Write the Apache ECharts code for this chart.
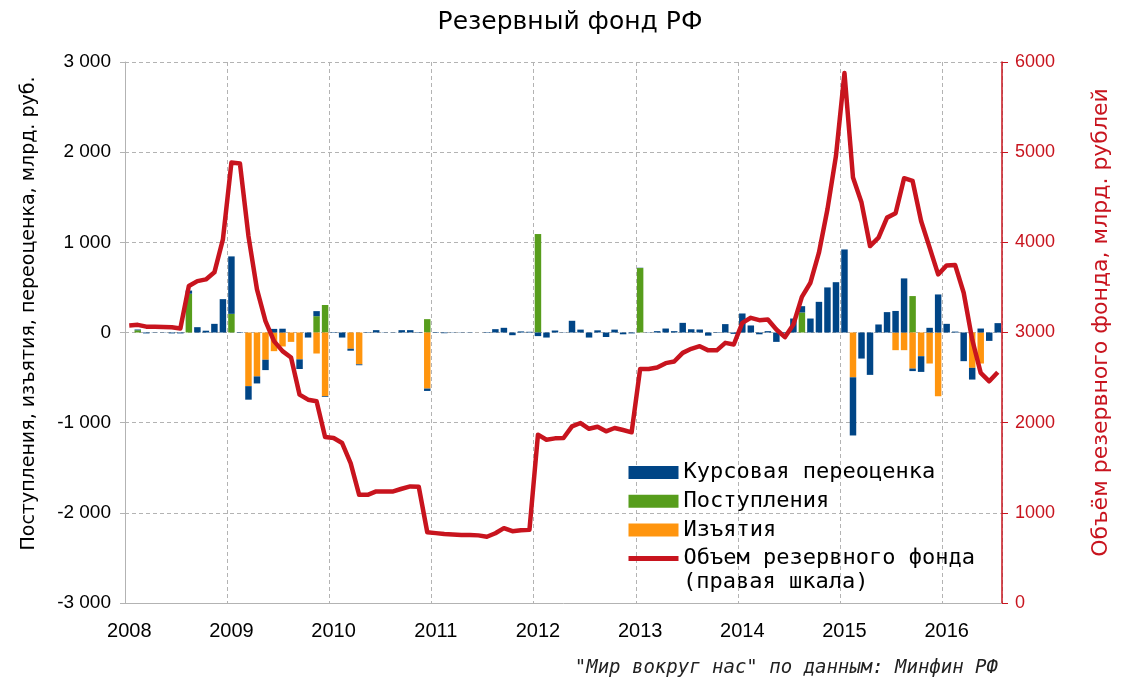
<!DOCTYPE html>
<html>
<head>
<meta charset="utf-8">
<script src="https://cdn.jsdelivr.net/npm/echarts@6/dist/echarts.min.js"></script>
<style>
html,body{margin:0;padding:0;background:#fff;}
#chart{width:1123px;height:688px;}
</style>
</head>
<body>
<div id="chart"></div>
<script>
// Years shown on the x axis
const years = [2008, 2009, 2010, 2011, 2012, 2013, 2014, 2015, 2016];
// Monthly categories Jan 2008 .. Jul 2016
const months = [];
years.forEach(y => { for (let m = 1; m <= 12; m++) { if (y === 2016 && m > 7) break; months.push(y + '-' + (m < 10 ? '0' + m : m)); } });

// Курсовая переоценка, млрд руб.
const revaluation = [
  0, 8, -10, -3, -3, -10, -10, 35, 59, 20, 96, 370,
  637, -5, -150, -78, -115, 40, 42, 0, -107, -56, 56, -8,
  -5, -56, -22, -10, 5, 26, 3, 3, 26, 26, 5, -26,
  -5, -8, -3, -3, -3, 0, 5, 37, 52, -30, 12, 8,
  -40, -56, 22, 3, 130, 32, -56, 24, -50, 32, -20, -10,
  3, 3, 15, 44, 15, 107, 36, 33, -35, 5, 93, -15,
  211, 78, -20, 15, -104, -8, 155, 70, 155, 340, 500, 558,
  921, -645, -289, -470, 89, 226, 239, 600, -28, -174, 52, 422,
  96, 10, -318, -130, 44, -93, 104
];
// Поступления, млрд руб.
const inflows = [
  0, 25, 0, 0, 0, 0, 0, 430, 0, 0, 0, 0,
  207, 0, 0, 0, 0, 0, 0, 0, 0, 0, 181, 305,
  0, 0, 0, 0, 0, 0, 0, 0, 0, 0, 0, 148,
  0, 0, 0, 0, 0, 0, 0, 0, 0, 0, 0, 0,
  1092, 0, 0, 0, 0, 0, 0, 0, 0, 0, 0, 0,
  715, 0, 0, 0, 0, 0, 0, 0, 0, 0, 0, 0,
  0, 0, 0, 0, 0, 0, 0, 222, 0, 0, 0, 0,
  0, 0, 0, 0, 0, 0, 0, 0, 404, 0, 0, 0,
  0, 0, 0, 0, 0, 0, 0
];
// Изъятия, млрд руб.
const withdrawals = [
  0, 0, 0, 0, 0, 0, 0, 0, 0, 0, 0, 0,
  0, 0, -595, -487, -302, -207, -155, -104, -298, 0, -233, -707,
  0, 0, -180, -353, 0, 0, 0, 0, 0, 0, 0, -622,
  0, 0, 0, 0, 0, 0, 0, 0, 0, 0, 0, 0,
  0, 0, 0, 0, 0, 0, 0, 0, 0, 0, 0, 0,
  0, 0, 0, 0, 0, 0, 0, 0, 0, 0, 0, 0,
  0, 0, 0, 0, 0, 0, 0, 0, 0, 0, 0, 0,
  0, -497, 0, 0, 0, 0, -196, -196, -400, -263, -344, -707,
  0, 0, 0, -392, -344, 0, 0
];
// Объем резервного фонда, млрд руб. (правая шкала)
const fundVolume = [
  3078, 3085, 3065, 3065, 3062, 3058, 3044, 3515, 3570, 3589, 3667, 4033,
  4885, 4875, 4070, 3478, 3126, 2904, 2793, 2722, 2311, 2255, 2237, 1841,
  1830, 1774, 1552, 1200, 1200, 1237, 1237, 1237, 1267, 1293, 1289, 785,
  775, 765, 760, 755, 755, 750, 735, 774, 830, 796, 807, 811,
  1867, 1811, 1826, 1830, 1959, 1996, 1932, 1955, 1904, 1941, 1918, 1893,
  2596, 2596, 2612, 2660, 2678, 2774, 2819, 2848, 2802, 2802, 2885, 2867,
  3107, 3163, 3137, 3144, 3033, 2948, 3089, 3396, 3552, 3885, 4367, 4959,
  5877, 4718, 4441, 3959, 4052, 4274, 4322, 4711, 4681, 4237, 3941, 3644,
  3744, 3748, 3441, 2922, 2552, 2459, 2559
];

const seriesNames = ['Курсовая переоценка', 'Поступления', 'Изъятия', 'Объем резервного фонда'];
const leftTicks = { min: -3000, max: 3000, step: 1000 };
const rightTicks = { min: 0, max: 6000, step: 1000 };

const BLUE = '#004586', GREEN = '#579d1c', ORANGE = '#ff950e', RED = '#c8141e';
const GRID = '#b3b3b3';

const chart = echarts.init(document.getElementById('chart'), null, { renderer: 'canvas' });
const option = {
  animation: false,
  backgroundColor: '#ffffff',
  grid: { left: 125, right: 121, top: 62, bottom: 85, containLabel: false },
  legend: {
    orient: 'vertical', left: 626, top: 460.5, padding: 0,
    itemWidth: 50, itemHeight: 13, itemGap: 4.7,
    selectedMode: false,
    textStyle: { fontFamily: 'DejaVu Sans Mono', fontSize: 22, color: '#000', lineHeight: 24 },
    data: [
      { name: seriesNames[0], icon: 'rect' },
      { name: seriesNames[1], icon: 'rect' },
      { name: seriesNames[2], icon: 'rect' },
      { name: seriesNames[3], itemStyle: { color: 'rgba(0,0,0,0)', borderColor: 'rgba(0,0,0,0)', borderWidth: 0, opacity: 0 }, lineStyle: { width: 5, color: RED } }
    ]
  },
  graphic: [
    { type: 'text', x: 570, y: 22, style: { text: 'Резервный фонд РФ', fill: '#000', font: '25px "DejaVu Sans"', textAlign: 'center', textVerticalAlign: 'middle' } },
    { type: 'text', x: 683, y: 582, style: { text: '(правая шкала)', fill: '#000', font: '22px "DejaVu Sans Mono"', textAlign: 'left', textVerticalAlign: 'middle' } },
    { type: 'text', x: 998, y: 668, style: { text: '"Мир вокруг нас" по данным: Минфин РФ', fill: '#222', font: 'italic 19px "DejaVu Sans Mono"', textAlign: 'right', textVerticalAlign: 'middle' } }
  ],
  xAxis: {
    type: 'category',
    data: months,
    boundaryGap: true,
    axisLine: { show: true, onZero: false, lineStyle: { color: GRID, width: 1 } },
    axisTick: { show: false },
    axisLabel: {
      interval: (idx) => idx % 12 === 0,
      formatter: (v) => v.slice(0, 4),
      fontFamily: 'Liberation Sans', fontSize: 20, color: '#000', margin: 18
    },
    splitLine: { show: true, interval: (idx) => idx % 12 === 0, lineStyle: { color: GRID, type: [4, 3], width: 1 } }
  },
  yAxis: [
    {
      type: 'value', min: leftTicks.min, max: leftTicks.max, interval: leftTicks.step,
      position: 'left',
      name: 'Поступления, изъятия, переоценка, млрд. руб.',
      nameLocation: 'middle', nameRotate: 90, nameGap: 86,
      nameTextStyle: { fontFamily: 'DejaVu Sans', fontSize: 19, color: '#000', padding: [0, 0, 0, 38] },
      axisLine: { show: true, lineStyle: { color: GRID } },
      axisTick: { show: true, length: 5, lineStyle: { color: GRID } },
      axisLabel: {
        fontFamily: 'Liberation Sans', fontSize: 19, color: '#000', margin: 14,
        formatter: (v) => v === 0 ? '0' : (v < 0 ? '-' : '') + (Math.abs(v) / 1000) + ' 000'
      },
      splitLine: { show: true, lineStyle: { color: GRID, type: [4, 3], width: 1 } }
    },
    {
      type: 'value', min: rightTicks.min, max: rightTicks.max, interval: rightTicks.step,
      position: 'right',
      name: 'Объём резервного фонда, млрд. рублей',
      nameLocation: 'middle', nameRotate: 90, nameGap: 88,
      nameTextStyle: { fontFamily: 'DejaVu Sans', fontSize: 22, color: RED, padding: [0, 0, 0, 20] },
      axisLine: { show: true, lineStyle: { color: RED, width: 1.5 } },
      axisTick: { show: true, length: 6, lineStyle: { color: RED } },
      axisLabel: { fontFamily: 'Liberation Sans', fontSize: 18, color: RED, margin: 13, formatter: (v) => String(v) },
      splitLine: { show: false }
    }
  ],
  series: [
    { name: seriesNames[1], type: 'bar', stack: 'flows', data: inflows, itemStyle: { color: GREEN }, barWidth: '76%', yAxisIndex: 0 },
    { name: seriesNames[2], type: 'bar', stack: 'flows', data: withdrawals, itemStyle: { color: ORANGE }, barWidth: '76%', yAxisIndex: 0 },
    { name: seriesNames[0], type: 'bar', stack: 'flows', data: revaluation, itemStyle: { color: BLUE }, barWidth: '76%', yAxisIndex: 0 },
    { name: seriesNames[3], type: 'line', data: fundVolume, yAxisIndex: 1, symbol: 'none', showSymbol: false,
      lineStyle: { color: RED, width: 4.5, join: 'round' }, itemStyle: { color: RED }, z: 5 }
  ]
};
chart.setOption(option);
</script>
</body>
</html>
